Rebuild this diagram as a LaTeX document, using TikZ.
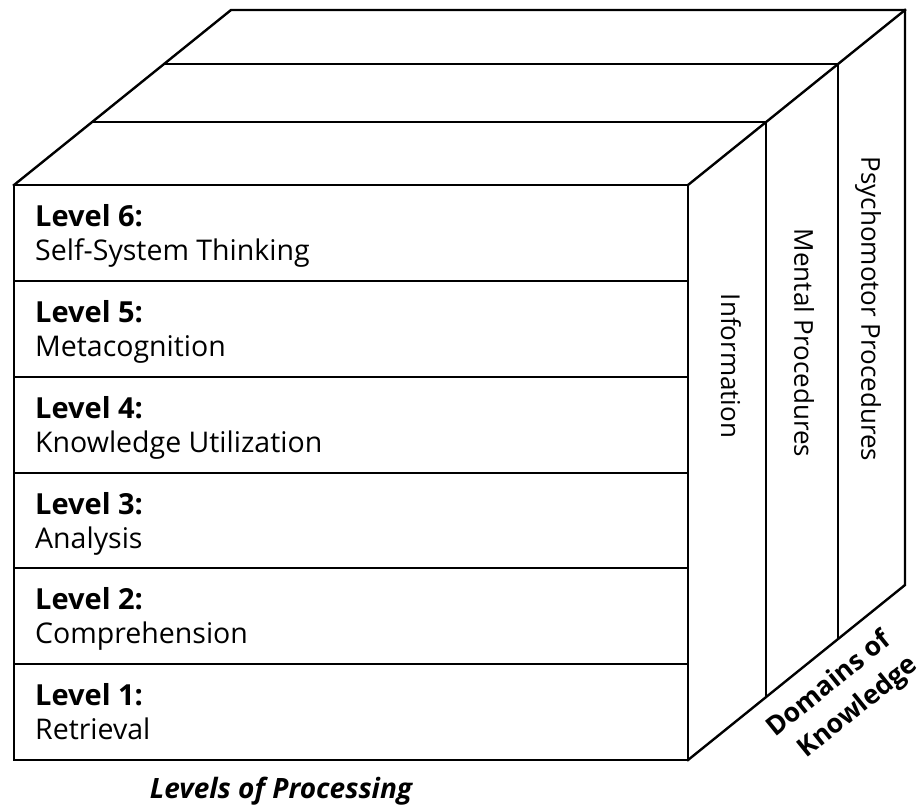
\documentclass[tikz,border=0pt]{standalone}
\usepackage{fontspec}
\setmainfont{Open Sans}
\begin{document}
\begin{tikzpicture}[x=1pt,y=-1pt,
  edge/.style={line width=2.4pt, line join=miter, line cap=rect},
  sepline/.style={line width=2pt},
  lvl/.style={anchor=base west, font=\fontsize{29}{30}\selectfont\bfseries, inner sep=0pt},
  desc/.style={anchor=base west, font=\fontsize{28.5}{30}\selectfont, inner sep=0pt},
  domlabel/.style={font=\fontsize{26}{30}\selectfont, rotate=-90, inner sep=0pt},
  axislabel/.style={font=\fontsize{26.5}{36}\selectfont\bfseries, inner sep=0pt, rotate=39, align=center}]
\useasboundingbox (0,0) rectangle (924,807);
% corners
\coordinate (FTL) at (14,185);
\coordinate (FTR) at (688,185);
\coordinate (FBR) at (688,760);
\coordinate (FBL) at (14,760);
\coordinate (BTL) at (231,10);
\coordinate (BTR) at (905,10);
\coordinate (BBR) at (905,585);
\coordinate (S1L) at (92,122);
\coordinate (S1R) at (766,122);
\coordinate (S1B) at (766,697);
\coordinate (S2L) at (164,64);
\coordinate (S2R) at (838,64);
\coordinate (S2B) at (838,639);
% row dividers
\foreach \i/\y in {1/281,2/377,3/473,4/568,5/664}{
  \coordinate (RL\i) at (14,\y);
  \coordinate (RR\i) at (688,\y);
  \draw[sepline] (RL\i) -- (RR\i);
}
% slab dividers
\draw[sepline] (S1L) -- (S1R) -- (S1B);
\draw[sepline] (S2L) -- (S2R) -- (S2B);
% outline
\draw[edge] (FTL) -- (FTR) -- (FBR) -- (FBL) -- cycle;
\draw[edge] (FTL) -- (BTL) -- (BTR) -- (BBR) -- (FBR);
\draw[edge] (FTR) -- (BTR);
% level texts
\foreach \n/\t/\y in {6/Self-System Thinking/185,5/Metacognition/281,4/Knowledge Utilization/377,3/Analysis/473,2/Comprehension/568,1/Retrieval/664}{
  \node[lvl] (L\n) at (35,\y+41) {Level \n:};
  \node[desc] (D\n) at (35,\y+75) {\t};
}
% domain texts
\node[domlabel] (info) at (731,366) {Information};
\node[domlabel] (mental) at (804,343) {Mental Procedures};
\node[domlabel] (psycho) at (868,309) {Psychomotor Procedures};
\node[axislabel] (dok) at (841,699) {Domains of\\\hspace*{16pt}Knowledge};
\node[font=\fontsize{28}{30}\selectfont\bfseries\itshape, inner sep=0pt] (lop) at (281,791) {Levels of Processing};
\end{tikzpicture}
\end{document}
